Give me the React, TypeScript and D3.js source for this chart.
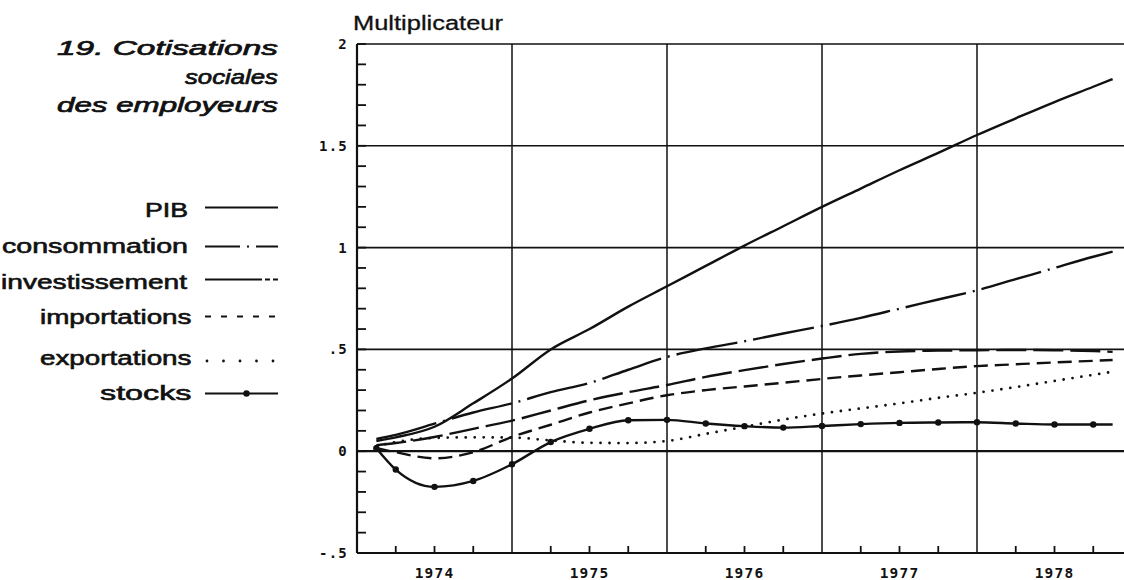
import React from 'react';
import * as d3 from 'd3';

// Time in quarters from start of 1974 (0) to end of 1978 (20)
const quarters = [0.5, 1, 2, 3, 4, 5, 6, 7, 8, 9, 10, 11, 12, 13, 14, 15, 16, 17, 18, 19, 19.5];

const pib = [0.05, 0.068, 0.12, 0.235, 0.357, 0.5, 0.6, 0.71, 0.81, 0.91, 1.01, 1.105, 1.2, 1.29, 1.38, 1.465, 1.553, 1.635, 1.715, 1.79, 1.828];
const consommation = [0.06, 0.08, 0.135, 0.19, 0.235, 0.29, 0.335, 0.4, 0.463, 0.505, 0.54, 0.578, 0.615, 0.655, 0.7, 0.745, 0.79, 0.845, 0.9, 0.955, 0.98];
const investissement = [0.03, 0.04, 0.07, 0.11, 0.15, 0.2, 0.25, 0.29, 0.325, 0.365, 0.398, 0.428, 0.455, 0.478, 0.49, 0.494, 0.496, 0.497, 0.496, 0.492, 0.488];
const importations = [0.015, -0.005, -0.035, -0.005, 0.07, 0.13, 0.19, 0.235, 0.275, 0.3, 0.318, 0.336, 0.355, 0.372, 0.388, 0.404, 0.418, 0.427, 0.436, 0.444, 0.448];
const exportations = [0.025, 0.045, 0.065, 0.068, 0.067, 0.053, 0.041, 0.04, 0.05, 0.085, 0.12, 0.155, 0.185, 0.21, 0.235, 0.262, 0.287, 0.315, 0.345, 0.375, 0.39];
const stocks = [0.015, -0.09, -0.175, -0.146, -0.064, 0.045, 0.11, 0.152, 0.154, 0.136, 0.123, 0.116, 0.124, 0.133, 0.139, 0.141, 0.142, 0.136, 0.131, 0.131, 0.131];

const seriesNames = ['PIB', 'consommation', 'investissement', 'importations', 'exportations', 'stocks'];
const years = ['1974', '1975', '1976', '1977', '1978'];
const yLabelValues = [2, 1.5, 1, 0.5, 0, -0.5];
const yLabelTexts = ['2', '1.5', '1', '.5', '0', '-.5'];
const gridValues = [2, 1.5, 1, 0.5, 0];
const titleLines = ['19. Cotisations', 'sociales', 'des employeurs'];
const axisTitle = 'Multiplicateur';

const W = 1124;
const H = 580;
const x = d3.scaleLinear().domain([0, 20]).range([357, 1132]);
const y = d3.scaleLinear().domain([-0.5, 2]).range([553, 44]);

const allValues = [pib, consommation, investissement, importations, exportations, stocks];
const styles = [
  { dash: undefined, cap: 'butt' },
  { dash: '62 7 2 7', cap: 'butt' },
  { dash: '30 7', cap: 'butt' },
  { dash: '14 7', cap: 'butt' },
  { dash: '0 9', cap: 'round' },
  { dash: undefined, cap: 'butt' },
];

// legend layout: text left edge / width / baseline, sample line y
const legendLayout = [
  { tx: 145, tw: 43, ty: 216.5, ly: 207.5 },
  { tx: 2, tw: 186, ty: 253, ly: 246.5 },
  { tx: 1, tw: 186, ty: 289, ly: 279.5 },
  { tx: 40, tw: 151.5, ty: 324, ly: 316.5 },
  { tx: 40, tw: 151.5, ty: 365, ly: 361 },
  { tx: 100, tw: 91.5, ty: 400, ly: 393.5 },
];
const titleLayout = [
  { tx: 57, tw: 221, ty: 55 },
  { tx: 185, tw: 93, ty: 83.5 },
  { tx: 57, tw: 221, ty: 112 },
];

const SANS = '"Liberation Sans", Arial, Helvetica, sans-serif';
const MONO = '"DejaVu Sans Mono", "Liberation Mono", monospace';
const INK = '#111';

function LegendSample({ i, yy }: { i: number; yy: number }) {
  const x0 = 205;
  const x1 = 278;
  const common = { stroke: INK, strokeWidth: 2.2, fill: 'none' } as any;
  if (i === 0) return <line x1={x0} x2={x1} y1={yy} y2={yy} {...common} />;
  if (i === 1) return <line x1={x0} x2={x1} y1={yy} y2={yy} {...common} strokeDasharray="35 7 2 7 40" />;
  if (i === 2) return <line x1={x0} x2={x1} y1={yy} y2={yy} {...common} strokeDasharray="57 3 5 3 5" />;
  if (i === 3) return <line x1={x0} x2={x1} y1={yy} y2={yy} {...common} strokeDasharray="6 10" />;
  if (i === 4)
    return <line x1={x0 + 2} x2={x1} y1={yy} y2={yy} {...common} strokeWidth={2.8} strokeLinecap="round" strokeDasharray="0 16.5" />;
  return (
    <g>
      <line x1={x0} x2={x1} y1={yy} y2={yy} {...common} />
      <circle cx={(x0 + x1) / 2 + 5} cy={yy} r={3.2} fill={INK} />
    </g>
  );
}

export default function App() {
  const line = d3
    .line<number>()
    .x((_, i) => x(quarters[i]))
    .y((d) => y(d))
    .curve(d3.curveMonotoneX);

  const minorY = d3.range(-5, 21).map((k) => k / 10);
  const quarterTicks = d3.range(1, 21).filter((q) => q % 4 !== 0);
  const yearBounds = d3.range(4, 21, 4);

  const [x0] = x.range();
  const [yb, yt] = y.range();

  return (
    <svg width={W} height={H} style={{ position: 'absolute', left: 0, top: 0, background: '#fff' }}>
      <rect x={0} y={0} width={W} height={H} fill="#fff" />
      {/* title block */}
      {titleLines.map((t, i) => (
        <text
          key={t}
          x={titleLayout[i].tx}
          y={titleLayout[i].ty}
          textLength={titleLayout[i].tw}
          lengthAdjust="spacingAndGlyphs"
          fontFamily={SANS}
          fontStyle="italic"
          fontSize={21}
          fill={INK}
          stroke={INK}
          strokeWidth={0.7}
        >
          {t}
        </text>
      ))}
      {/* legend */}
      {seriesNames.map((n, i) => (
        <g key={n}>
          <text
            x={legendLayout[i].tx}
            y={legendLayout[i].ty}
            textLength={legendLayout[i].tw}
            lengthAdjust="spacingAndGlyphs"
            fontFamily={SANS}
            fontSize={20}
            fill={INK}
            stroke={INK}
            strokeWidth={0.6}
          >
            {n}
          </text>
          <LegendSample i={i} yy={legendLayout[i].ly} />
        </g>
      ))}
      {/* axis title */}
      <text x={353} y={30} textLength={150} lengthAdjust="spacingAndGlyphs" fontFamily={SANS} fontSize={20} fill={INK} stroke={INK} strokeWidth={0.3}>
        {axisTitle}
      </text>
      {/* grid */}
      {gridValues.map((v) => (
        <line key={'g' + v} x1={x0} x2={W + 10} y1={y(v)} y2={y(v)} stroke={INK} strokeWidth={v === 0 ? 2.2 : 1.6} />
      ))}
      {yearBounds.map((q) => (
        <line key={'v' + q} x1={x(q)} x2={x(q)} y1={yt} y2={yb} stroke={INK} strokeWidth={1.5} />
      ))}
      {/* axes */}
      <line x1={x0} x2={x0} y1={yt} y2={yb} stroke={INK} strokeWidth={2.2} />
      <line x1={x0} x2={W + 10} y1={yb} y2={yb} stroke={INK} strokeWidth={2.2} />
      {minorY.map((v) => (
        <line key={'t' + v} x1={x0} x2={x0 + 9} y1={y(v)} y2={y(v)} stroke={INK} strokeWidth={1.8} />
      ))}
      {quarterTicks.map((q) => (
        <line key={'q' + q} x1={x(q)} x2={x(q)} y1={yb} y2={yb - 7} stroke={INK} strokeWidth={1.8} />
      ))}
      {/* y labels */}
      {yLabelValues.map((v, i) => (
        <text
          key={'yl' + v}
          x={348}
          y={y(v) + 5}
          textAnchor="end"
          fontFamily={MONO}
          fontWeight="bold"
          fontSize={14}
          letterSpacing={1.2}
          fill={INK}
        >
          {yLabelTexts[i]}
        </text>
      ))}
      {/* x labels */}
      {years.map((yr, i) => (
        <text
          key={yr}
          x={(x(i * 4) + x(i * 4 + 4)) / 2}
          y={578}
          textAnchor="middle"
          fontFamily={MONO}
          fontWeight="bold"
          fontSize={14.5}
          letterSpacing={1.2}
          fill={INK}
        >
          {yr}
        </text>
      ))}
      {/* series */}
      {allValues.map((vals, i) => (
        <path
          key={seriesNames[i]}
          d={line(vals) || ''}
          fill="none"
          stroke={INK}
          strokeWidth={i === 4 ? 2.8 : 2.4}
          strokeLinecap={styles[i].cap as any}
          strokeDasharray={styles[i].dash}
        />
      ))}
      {stocks.slice(0, stocks.length - 1).map((v, i) => (
        <circle key={'s' + i} cx={x(quarters[i])} cy={y(v)} r={3.2} fill={INK} />
      ))}
    </svg>
  );
}
